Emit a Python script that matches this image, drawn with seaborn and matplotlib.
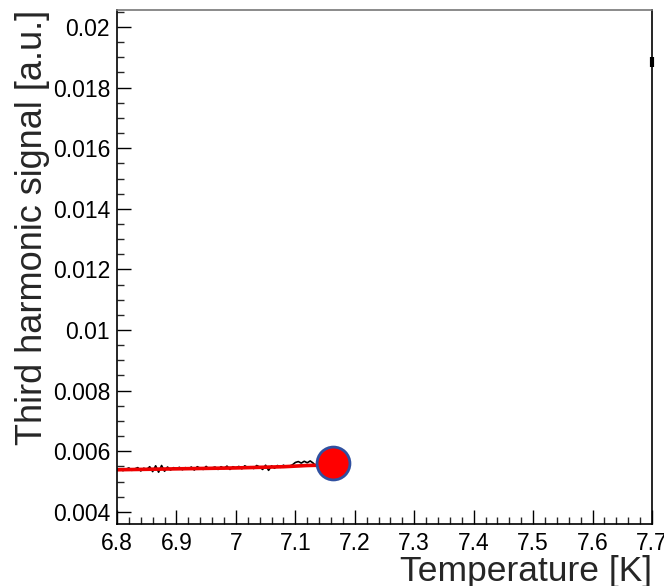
import numpy as np
import pandas as pd
import matplotlib
matplotlib.use("Agg")
import matplotlib.pyplot as plt
import seaborn as sns
from matplotlib.ticker import MultipleLocator, FuncFormatter

# measured third harmonic signal (black trace)
temp = [6.800, 6.805, 6.810, 6.815, 6.820, 6.825, 6.830, 6.835, 6.840, 6.845,
        6.850, 6.855, 6.860, 6.865, 6.870, 6.875, 6.880, 6.885, 6.890, 6.895,
        6.900, 6.905, 6.910, 6.915, 6.920, 6.925, 6.930, 6.935, 6.940, 6.945,
        6.950, 6.955, 6.960, 6.965, 6.970, 6.975, 6.980, 6.985, 6.990, 6.995,
        7.000, 7.005, 7.010, 7.015, 7.020, 7.025, 7.030, 7.035, 7.040, 7.045,
        7.050, 7.055, 7.060, 7.065, 7.070, 7.075, 7.080, 7.085, 7.090, 7.095,
        7.100, 7.105, 7.110, 7.115, 7.120, 7.125, 7.130, 7.135, 7.140, 7.145,
        7.150, 7.155, 7.160]
signal = [5.40, 5.42, 5.36, 5.41, 5.45, 5.37, 5.42, 5.46, 5.35, 5.44,
          5.40, 5.49, 5.33, 5.52, 5.31, 5.53, 5.34, 5.48, 5.38, 5.46,
          5.43, 5.47, 5.39, 5.46, 5.41, 5.48, 5.38, 5.49, 5.44, 5.40,
          5.50, 5.41, 5.45, 5.48, 5.40, 5.49, 5.43, 5.51, 5.40, 5.49,
          5.45, 5.50, 5.42, 5.52, 5.46, 5.49, 5.43, 5.53, 5.48, 5.40,
          5.54, 5.37, 5.52, 5.44, 5.53, 5.47, 5.54, 5.48, 5.51, 5.55,
          5.63, 5.66, 5.61, 5.67, 5.62, 5.68, 5.61, 5.50, 5.68, 5.63,
          5.66, 5.58, 5.56]  # x 1e-3

# smooth fit (red)
fit_temp = [6.80, 6.90, 7.00, 7.08, 7.12, 7.16]
fit_signal = [5.39, 5.42, 5.45, 5.49, 5.53, 5.55]  # x 1e-3

# highlighted point and the point at the right edge
marker_temp = [7.163]
marker_signal = [5.60]  # x 1e-3
edge_temp = [7.7]
edge_signal = [18.85]  # x 1e-3

df = pd.DataFrame({"T": temp, "S": np.array(signal) * 1e-3})
fit = pd.DataFrame({"T": fit_temp, "S": np.array(fit_signal) * 1e-3})
pt = pd.DataFrame({"T": marker_temp, "S": np.array(marker_signal) * 1e-3})

sns.set_style("white")
plt.rcParams['font.family'] = ['Liberation Sans', 'DejaVu Sans']

fig = plt.figure(figsize=(6.64, 5.86), dpi=100)
ax = fig.add_axes([117/664, 1 - 524/586, 535/664, 514/586])

sns.lineplot(data=df, x="T", y="S", color="black", linewidth=1.2,
             estimator=None, sort=False, ax=ax)
sns.lineplot(data=fit, x="T", y="S", color="#ee0000", linewidth=2.6,
             estimator=None, ax=ax)
sns.scatterplot(data=pt, x="T", y="S", s=560, color="red",
                edgecolor="#3050a0", linewidth=2, zorder=5, ax=ax)
ax.plot(edge_temp, np.array(edge_signal) * 1e-3, marker="|", color="black",
        markersize=7, mew=3, clip_on=False, linestyle="none")

ax.set_xlim(6.8, 7.7)
ax.set_ylim(0.0036, 0.02056)

ax.xaxis.set_major_locator(MultipleLocator(0.1))
ax.xaxis.set_minor_locator(MultipleLocator(0.02))
ax.yaxis.set_major_locator(MultipleLocator(0.002))
ax.yaxis.set_minor_locator(MultipleLocator(0.0005))
fmt = FuncFormatter(lambda v, p: "%g" % round(v, 4))
ax.xaxis.set_major_formatter(fmt)
ax.yaxis.set_major_formatter(fmt)

ax.tick_params(axis="both", which="major", direction="in", length=10,
               width=1, labelsize=16.5, colors="black")
ax.tick_params(axis="both", which="minor", direction="in", length=5, width=1)
ax.tick_params(axis="x", which="both", bottom=True, top=False, pad=6)
ax.tick_params(axis="y", which="both", left=True, right=False, pad=5)

for side in ["left", "bottom", "right"]:
    ax.spines[side].set_color("black")
    ax.spines[side].set_linewidth(1.2)
ax.spines["top"].set_color("#777777")
ax.spines["top"].set_linewidth(1.2)

ax.set_xlabel("Temperature [K]", fontsize=25.5, loc="right", labelpad=0)
ax.set_ylabel("Third harmonic signal [a.u.]", fontsize=26, loc="top", labelpad=2)

fig.savefig("out.png", dpi=100)
